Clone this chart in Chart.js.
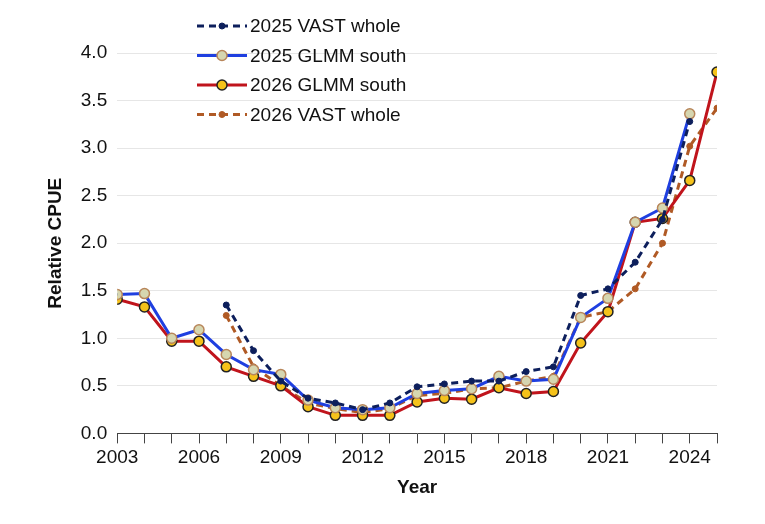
<!DOCTYPE html>
<html>
<head>
<meta charset="utf-8">
<script src="https://cdn.jsdelivr.net/npm/chart.js@4/dist/chart.umd.min.js"></script>
<style>
  html, body { margin: 0; padding: 0; background: #fff; }
  #wrap { width: 765px; height: 524px; }
</style>
</head>
<body>
<div id="wrap"><canvas id="cpue"></canvas></div>
<script>
var years = [2003,2004,2005,2006,2007,2008,2009,2010,2011,2012,2013,2014,2015,2016,2017,2018,2019,2020,2021,2022,2023,2024,2025];
var vast2025 = [null,null,null,null,1.35,0.87,0.55,0.37,0.32,0.25,0.32,0.49,0.52,0.55,0.55,0.65,0.70,1.45,1.52,1.80,2.25,3.28,null];
var glmm2025 = [1.46,1.47,1.00,1.09,0.83,0.67,0.62,0.35,0.27,0.25,0.27,0.42,0.45,0.47,0.60,0.55,0.57,1.22,1.42,2.22,2.37,3.36,null];
var glmm2026 = [1.41,1.33,0.97,0.97,0.70,0.60,0.50,0.28,0.19,0.19,0.19,0.33,0.37,0.36,0.48,0.42,0.44,0.95,1.28,2.22,2.26,2.66,3.80];
var vast2026 = [null,null,null,null,1.24,0.70,0.50,0.32,0.26,0.22,0.26,0.40,0.42,0.47,0.48,0.55,0.60,1.22,1.28,1.52,2.00,3.02,3.42];
var yTicks = [0,0.5,1,1.5,2,2.5,3,3.5,4];

function pts(arr) {
  return years.map(function (y, i) { return { x: y, y: arr[i] }; });
}

// legend drawn inside the plot, top-left
var innerLegend = {
  id: 'innerLegend',
  afterDraw: function (chart) {
    var ctx = chart.ctx;
    var x0 = 197, y0 = 26, gap = 29.5;
    ctx.save();
    ctx.font = '19px "Liberation Sans", Arial, sans-serif';
    ctx.textBaseline = 'middle';
    chart.data.datasets.forEach(function (ds, i) {
      var y = y0 + i * gap;
      ctx.strokeStyle = ds.borderColor;
      ctx.lineWidth = ds.borderWidth;
      ctx.setLineDash(ds.borderDash || []);
      ctx.beginPath(); ctx.moveTo(x0, y); ctx.lineTo(x0 + 50, y); ctx.stroke();
      ctx.setLineDash([]);
      ctx.beginPath();
      ctx.arc(x0 + 25, y, ds.pointRadius, 0, Math.PI * 2);
      ctx.fillStyle = ds.pointBackgroundColor; ctx.fill();
      ctx.lineWidth = ds.pointBorderWidth; ctx.strokeStyle = ds.pointBorderColor; ctx.stroke();
      ctx.fillStyle = '#111';
      ctx.fillText(ds.label, x0 + 53, y + 1);
    });
    ctx.restore();
  }
};

new Chart(document.getElementById('cpue'), {
  type: 'line',
  data: {
    datasets: [
      { label: '2025 VAST whole', data: pts(vast2025), borderColor: '#0d1f5c', borderWidth: 3, borderDash: [7, 5],
        pointRadius: 3, pointBackgroundColor: '#0d1f5c', pointBorderColor: '#0d1f5c', pointBorderWidth: 1 },
      { label: '2025 GLMM south', data: pts(glmm2025), borderColor: '#1f3fe0', borderWidth: 3,
        pointRadius: 5, pointBackgroundColor: '#d6d6b0', pointBorderColor: '#b8865a', pointBorderWidth: 1.5 },
      { label: '2026 GLMM south', data: pts(glmm2026), borderColor: '#c0141c', borderWidth: 3,
        pointRadius: 5, pointBackgroundColor: '#f5c21a', pointBorderColor: '#222', pointBorderWidth: 1.5 },
      { label: '2026 VAST whole', data: pts(vast2026), borderColor: '#b05a25', borderWidth: 3, borderDash: [7, 5],
        pointRadius: 3, pointBackgroundColor: '#b05a25', pointBorderColor: '#b05a25', pointBorderWidth: 1 }
    ]
  },
  options: {
    responsive: true,
    maintainAspectRatio: false,
    animation: false,
    spanGaps: false,
    layout: { padding: { top: 53, right: 48, left: 40, bottom: 21 } },
    plugins: { legend: { display: false }, tooltip: { enabled: false } },
    scales: {
      x: {
        type: 'linear', min: 2003, max: 2025,
        grid: { drawOnChartArea: false, color: '#444', tickLength: 10, lineWidth: 1 },
        border: { color: '#444' },
        ticks: {
          stepSize: 1, autoSkip: false, maxRotation: 0, color: '#111',
          font: { size: 19, family: '"Liberation Sans", Arial, sans-serif' },
          callback: function (v) { return (v - 2003) % 3 === 0 ? String(v) : ''; }
        },
        title: { display: true, text: 'Year', color: '#111',
          font: { size: 19, weight: 'bold', family: '"Liberation Sans", Arial, sans-serif' } }
      },
      y: {
        min: 0, max: 4,
        afterBuildTicks: function (axis) { axis.ticks = yTicks.map(function (v) { return { value: v }; }); },
        grid: { color: '#e6e6e6', drawTicks: false },
        border: { display: false },
        ticks: { padding: 10, color: '#111', font: { size: 19, family: '"Liberation Sans", Arial, sans-serif' },
          callback: function (v) { return v.toFixed(1); } },
        title: { display: true, text: 'Relative CPUE', color: '#111',
          font: { size: 19, weight: 'bold', family: '"Liberation Sans", Arial, sans-serif' } }
      }
    }
  },
  plugins: [innerLegend]
});
</script>
</body>
</html>
